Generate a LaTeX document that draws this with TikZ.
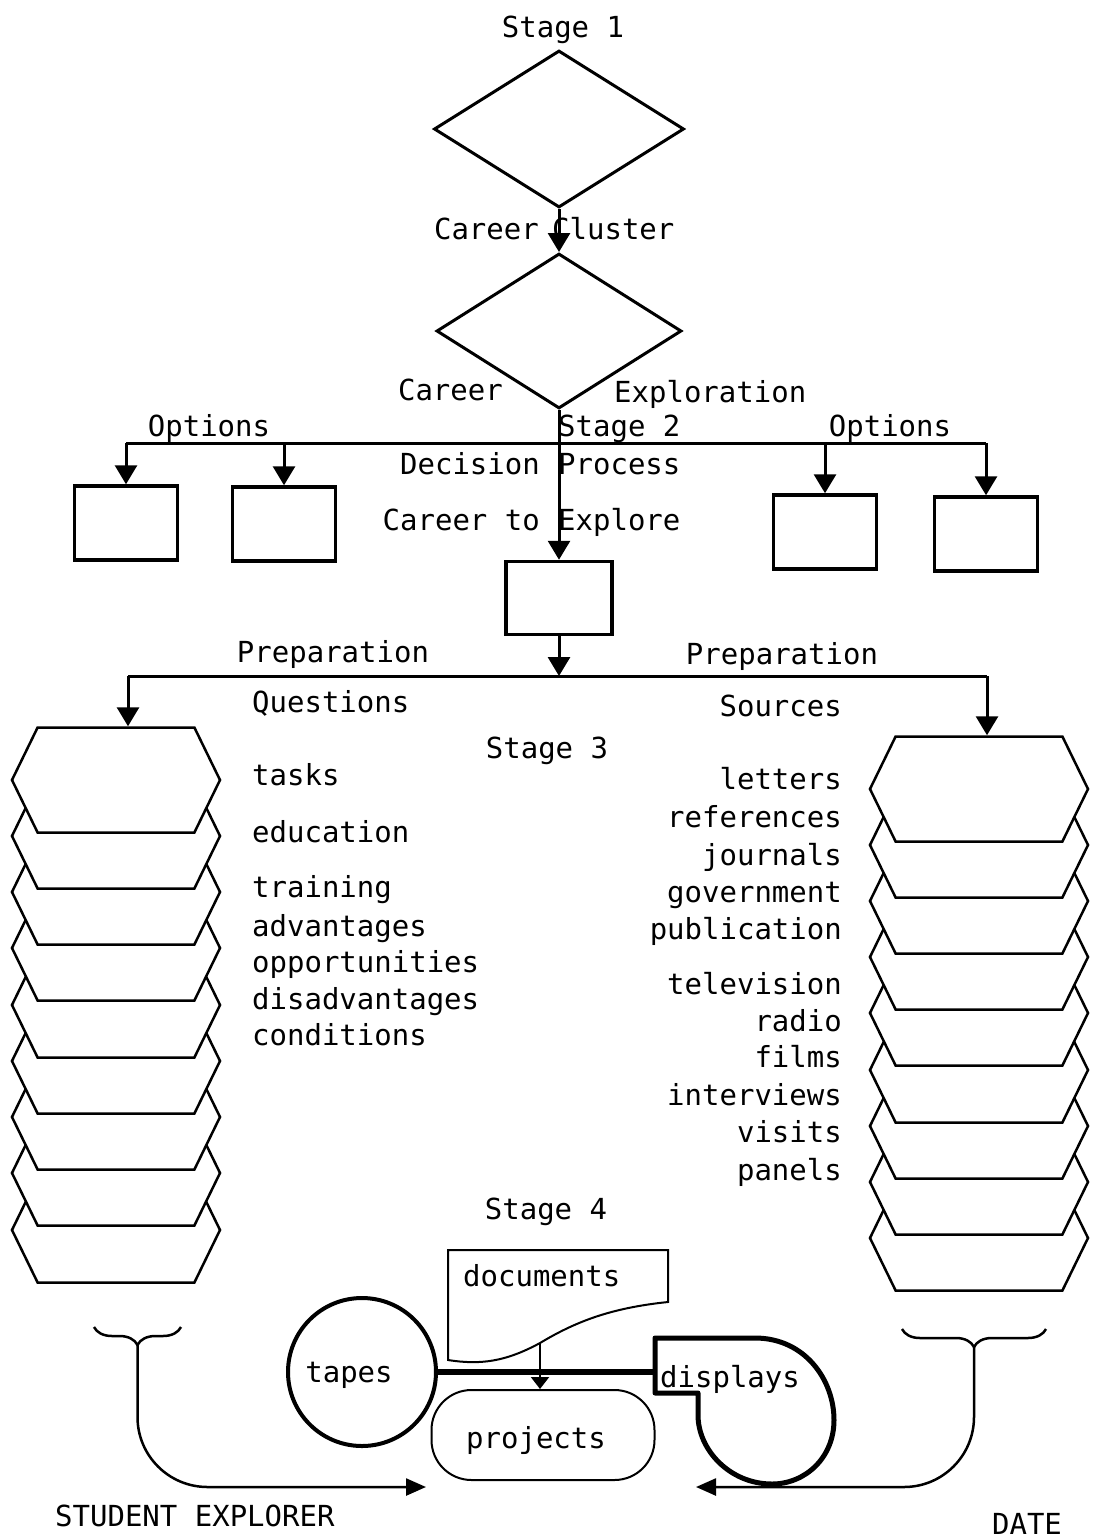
\documentclass[tikz,border=0pt]{standalone}
\usepackage{fontspec}
\setmainfont{DejaVu Sans Mono}
\usetikzlibrary{shapes.geometric,shapes.symbols,arrows.meta,decorations.pathreplacing}

\begin{document}
\begin{tikzpicture}[x=1pt, y=-1pt,
	every node/.style={font=\fontsize{29}{34}\selectfont, inner sep=2pt},
	decide/.style={diamond, draw, line width=3pt, inner sep=0pt},
	optbox/.style={draw, line width=3.5pt, minimum width=103, minimum height=74},
	card/.style={signal, signal to=west and east, signal pointer angle=128, draw, fill=white, line width=2.5pt, minimum height=105},
	flow/.style={-{Triangle[length=19pt,width=22pt]}, line width=3pt},
	feed/.style={-{Triangle[length=20pt,width=17pt]}, line width=2.5pt, rounded corners=70pt}]
	\useasboundingbox (0,0) rectangle (1094,1539);

	% Define nodes
	\node (stage1) at (563,30) {Stage 1};
	\node[decide, minimum width=250, minimum height=157] (cluster) at (559,129) {};
	\node[decide, minimum width=245, minimum height=155] (explore) at (559,331) {};
	\node[anchor=mid east] (career1) at (541,237) {Career};
	\node[anchor=mid west] (cluster1) at (550,237) {Cluster};
	\node[anchor=mid east] (career2) at (505,398) {Career};
	\node[anchor=mid west] (explore2) at (612,400) {Exploration};

	\node (optsl) at (209,428) {Options};
	\node (optsr) at (890,428) {Options};
	\node[anchor=mid west] (stage2) at (556,434) {Stage 2};
	\node[anchor=mid east] (decision) at (542,472) {Decision};
	\node[anchor=mid west] (process) at (556,472) {Process};
	\node[anchor=mid east] (careerto) at (542,528) {Career to};
	\node[anchor=mid west] (explore3) at (556,528) {Explore};

	\node[optbox] (ob1) at (126,523) {};
	\node[optbox] (ob2) at (284,524) {};
	\node[optbox] (ob3) at (825,532) {};
	\node[optbox] (ob4) at (986,534) {};
	\node[optbox, minimum width=106, minimum height=73] (chosen) at (559,598) {};

	\node (prepl) at (333,654) {Preparation};
	\node (prepr) at (782,656) {Preparation};
	\node[anchor=mid west] (questions) at (250,710) {Questions};
	\node[anchor=mid east] (sources) at (844,714) {Sources};
	\node (stage3) at (547,751) {Stage 3};

	\node[card, minimum width=208] (qcard9) at (116,1230) {};
	\node[card, minimum width=208] (qcard8) at (116,1173) {};
	\node[card, minimum width=208] (qcard7) at (116,1117) {};
	\node[card, minimum width=208] (qcard6) at (116,1061) {};
	\node[card, minimum width=208] (qcard5) at (116,1005) {};
	\node[card, minimum width=208] (qcard4) at (116,948) {};
	\node[card, minimum width=208] (qcard3) at (116,892) {};
	\node[card, minimum width=208] (qcard2) at (116,836) {};
	\node[card, minimum width=208] (qcard1) at (116,780) {};

	\node[card, minimum width=218] (scard9) at (979,1238) {};
	\node[card, minimum width=218] (scard8) at (979,1182) {};
	\node[card, minimum width=218] (scard7) at (979,1126) {};
	\node[card, minimum width=218] (scard6) at (979,1070) {};
	\node[card, minimum width=218] (scard5) at (979,1013) {};
	\node[card, minimum width=218] (scard4) at (979,957) {};
	\node[card, minimum width=218] (scard3) at (979,901) {};
	\node[card, minimum width=218] (scard2) at (979,845) {};
	\node[card, minimum width=218] (scard1) at (979,789) {};

	\node[anchor=mid west] (tasks) at (250,783) {tasks};
	\node[anchor=mid west] (education) at (250,840) {education};
	\node[anchor=mid west] (training) at (250,895) {training};
	\node[anchor=mid west] (advantages) at (250,934) {advantages};
	\node[anchor=mid west] (opportunities) at (250,970) {opportunities};
	\node[anchor=mid west] (disadvantages) at (250,1007) {disadvantages};
	\node[anchor=mid west] (conditions) at (250,1043) {conditions};

	\node[anchor=mid east] (letters) at (844,787) {letters};
	\node[anchor=mid east] (references) at (844,825) {references};
	\node[anchor=mid east] (journals) at (844,863) {journals};
	\node[anchor=mid east] (government) at (844,900) {government};
	\node[anchor=mid east] (publication) at (844,937) {publication};
	\node[anchor=mid east] (television) at (844,992) {television};
	\node[anchor=mid east] (radio) at (844,1029) {radio};
	\node[anchor=mid east] (films) at (844,1065) {films};
	\node[anchor=mid east] (interviews) at (844,1103) {interviews};
	\node[anchor=mid east] (visits) at (844,1140) {visits};
	\node[anchor=mid east] (panels) at (844,1178) {panels};

	\node (stage4) at (546,1212) {Stage 4};
	\node[anchor=mid west] (docs) at (461,1284) {documents};
	\node[circle, draw, line width=4pt, minimum size=148] (tapes) at (362,1372) {};
	\node (tapestext) at (349,1375) {tapes};
	\node[draw, line width=2pt, rounded corners=40pt, minimum width=223, minimum height=90] (projects) at (543,1435) {};
	\node (projectstext) at (536,1440) {projects};
	\node[anchor=mid west] (displays) at (658,1385) {displays};
	\node[anchor=mid west] (student) at (53,1524) {STUDENT EXPLORER};
	\node (date) at (1027,1524) {DATE};

	\coordinate (optl) at (126,443);
	\coordinate (optr) at (986,443);
	\coordinate (preql) at (128,676);
	\coordinate (preqr) at (987,676);
	\coordinate (docwave) at (540,1343);
	\coordinate (dispin) at (655,1372);
	\coordinate (qtip) at (137.5,1345);
	\coordinate (qend) at (426,1487);
	\coordinate (stip) at (974,1347);
	\coordinate (send) at (696,1487);

	% Draw shapes
	\draw[line width=2pt] (448,1250) -- (668,1250) -- (668,1302)
		.. controls (610,1308) and (575,1322) .. (docwave)
		.. controls (505,1362) and (480,1365) .. (448,1360) -- cycle;
	\draw[line width=5pt, line join=round] (655,1338) -- (755,1338)
		.. controls (805,1338) and (834,1380) .. (834,1420)
		.. controls (834,1458) and (805,1484) .. (772,1484)
		.. controls (730,1484) and (698,1450) .. (698,1415)
		-- (698,1393) -- (655,1393) -- cycle;
	\draw[line width=2.5pt, decorate, decoration={brace, amplitude=18pt}] (181,1327) -- (94,1327);
	\draw[line width=2.5pt, decorate, decoration={brace, amplitude=18pt}] (1046,1329) -- (902,1329);

	% Draw edges
	\draw[flow] (cluster.south) -- (explore.north);
	\draw[flow] (explore.south) -- (chosen.north);
	\draw[line width=3pt] (optl) -- (optr);
	\draw[flow] (optl) -- (ob1.north);
	\draw[flow] (ob2 |- optl) -- (ob2.north);
	\draw[flow] (ob3 |- optl) -- (ob3.north);
	\draw[flow] (optr) -- (ob4.north);

	\draw[flow] (chosen.south) -- (chosen.south |- preql);
	\draw[line width=3pt] (preql) -- (preqr);
	\draw[flow] (preql) -- (preql |- qcard1.north);
	\draw[flow] (preqr) -- (preqr |- scard1.north);

	\draw[line width=6pt] (tapes.east) -- (dispin);
	\draw[-{Triangle[length=12pt,width=18pt]}, line width=2pt] (docwave) -- (docwave |- projects.north);
	\draw[feed] (qtip) |- (qend);
	\draw[feed] (stip) |- (send);
\end{tikzpicture}
\end{document}
